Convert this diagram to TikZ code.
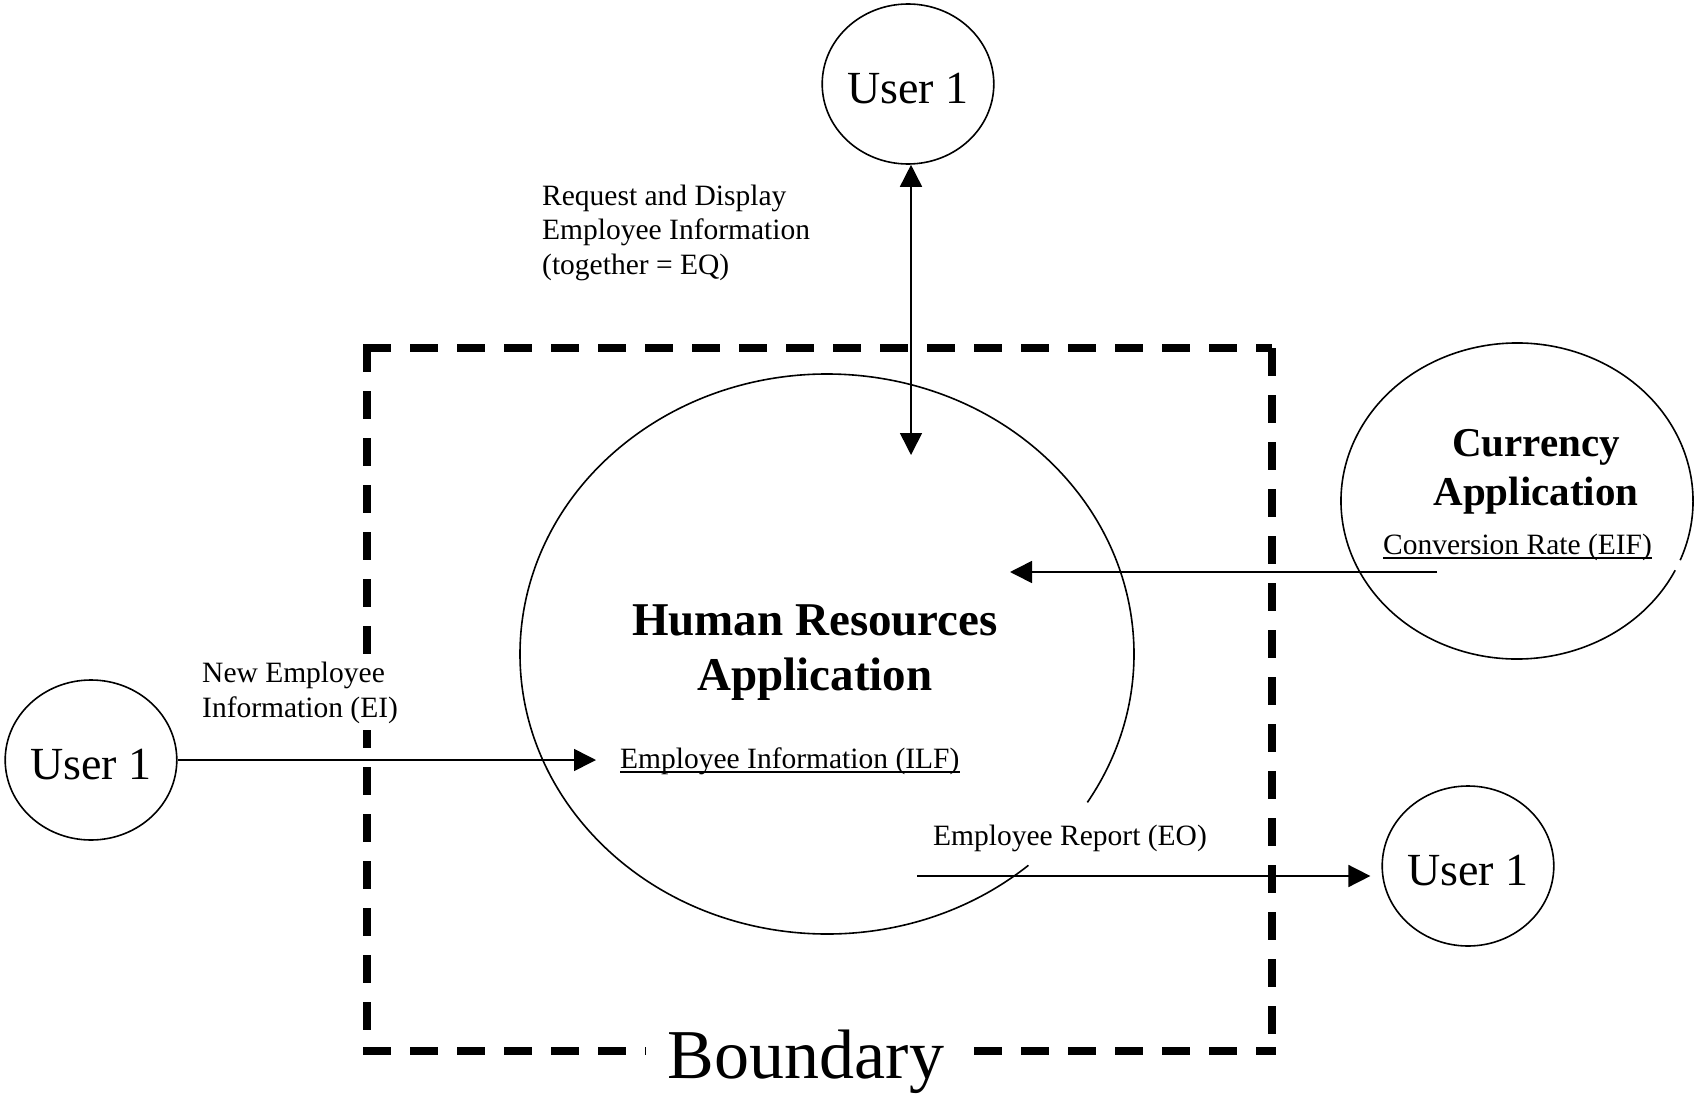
\documentclass[tikz,border=0pt]{standalone}
\usepackage{fontspec}
\setmainfont{Liberation Serif}
\usetikzlibrary{arrows.meta,shapes.geometric}

\tikzset{
  thin line/.style={line width=1.6pt},
  tipend/.style={-{Triangle[length=22pt,width=22pt]}},
  tipboth/.style={{Triangle[length=22pt,width=22pt]}-{Triangle[length=22pt,width=22pt]}},
  userbubble/.style={ellipse, draw, line width=1.6pt, minimum width=170pt,
    minimum height=160pt, inner sep=0pt, text height=40pt,
    font=\fontsize{46}{52}\selectfont},
  smalltext/.style={inner sep=0pt, anchor=base west, font=\fontsize{29.5}{34.6}\selectfont},
  maskedtext/.style={smalltext, fill=white, inner ysep=7pt},
  bigbold/.style={inner sep=0pt, anchor=base, font=\bfseries\fontsize{47}{55}\selectfont},
  midbold/.style={inner sep=0pt, anchor=base, font=\bfseries\fontsize{41}{49}\selectfont},
  boundline/.style={line width=8pt, dash pattern=on 28pt off 19pt},
  uline/.style={line width=1.5pt},
}

\begin{document}
\begin{tikzpicture}[x=1pt,y=-1pt]
\useasboundingbox (0,0) rectangle (1694,1094);

% system boundary, each side dashed from its own corner
\draw[boundline] (367,344) -- (367,1051);
\draw[boundline] (363,348) -- (1272,348);
\draw[boundline] (1272,348) -- (1272,1051);
\draw[boundline] (363,1051) -- (1276,1051);
\node[font=\fontsize{70}{80}\selectfont, fill=white, inner xsep=22pt, inner ysep=0pt,
      anchor=base] (bnd) at (806,1078) {Boundary};

% external users
\node[userbubble] (u1top)   at (908,84)  {User 1};
\node[userbubble] (u1left)  at (91,760)  {User 1};
\node[userbubble] (u1right) at (1468,866) {User 1};

% human resources application (outline broken behind the report label)
\coordinate (hrc) at (827,654);
\draw[thin line] (hrc) ++(49:307 and 280)
  arc[start angle=49, end angle=392, x radius=307, y radius=280];
\node[bigbold] (hr1) at (815,635) {Human Resources};
\node[bigbold] (hr2) at (815,690) {Application};
\node[smalltext] (ilf) at (620,768) {Employee Information (ILF)};
\draw[uline] ([yshift=-4pt]ilf.base west) -- ([yshift=-4pt]ilf.base east);

% currency application
\coordinate (curc) at (1517,501);
\draw[thin line] (curc) ++(26:176 and 158)
  arc[start angle=26, end angle=382, x radius=176, y radius=158];
\node[midbold] (cur1) at (1536,456) {Currency};
\node[midbold] (cur2) at (1536,505) {Application};
\node[smalltext] (eif) at (1383,554) {Conversion Rate (EIF)};
\draw[uline] ([yshift=-4pt]eif.base west) -- ([yshift=-4pt]eif.base east);

% inquiry (EQ)
\node[smalltext] (eq1) at (542,205) {Request and Display};
\node[smalltext] (eq2) at (542,240) {Employee Information};
\node[smalltext] (eq3) at (542,274) {(together = EQ)};
\coordinate (eqtip) at (911,455);
\draw[thin line, tipboth] (u1top.south -| eqtip) -- (eqtip);

% external interface file read
\coordinate (eifsrc) at (1437,572);
\coordinate (eiftip) at (1010,572);
\draw[thin line, tipend] (eifsrc) -- (eiftip);

% external input (EI), its label masks the boundary behind it
\node[maskedtext] (ei1) at (202,682) {New Employee};
\node[maskedtext] (ei2) at (202,717) {Information (EI)};
\coordinate (eitip) at (596,760);
\draw[thin line, tipend] (u1left.east) -- (eitip);

% external output (EO)
\node[smalltext] (eo) at (933,845) {Employee Report (EO)};
\coordinate (eosrc) at (917,876);
\draw[thin line, tipend, shorten >=11pt] (eosrc) -- (eosrc -| u1right.west);

\end{tikzpicture}
\end{document}
